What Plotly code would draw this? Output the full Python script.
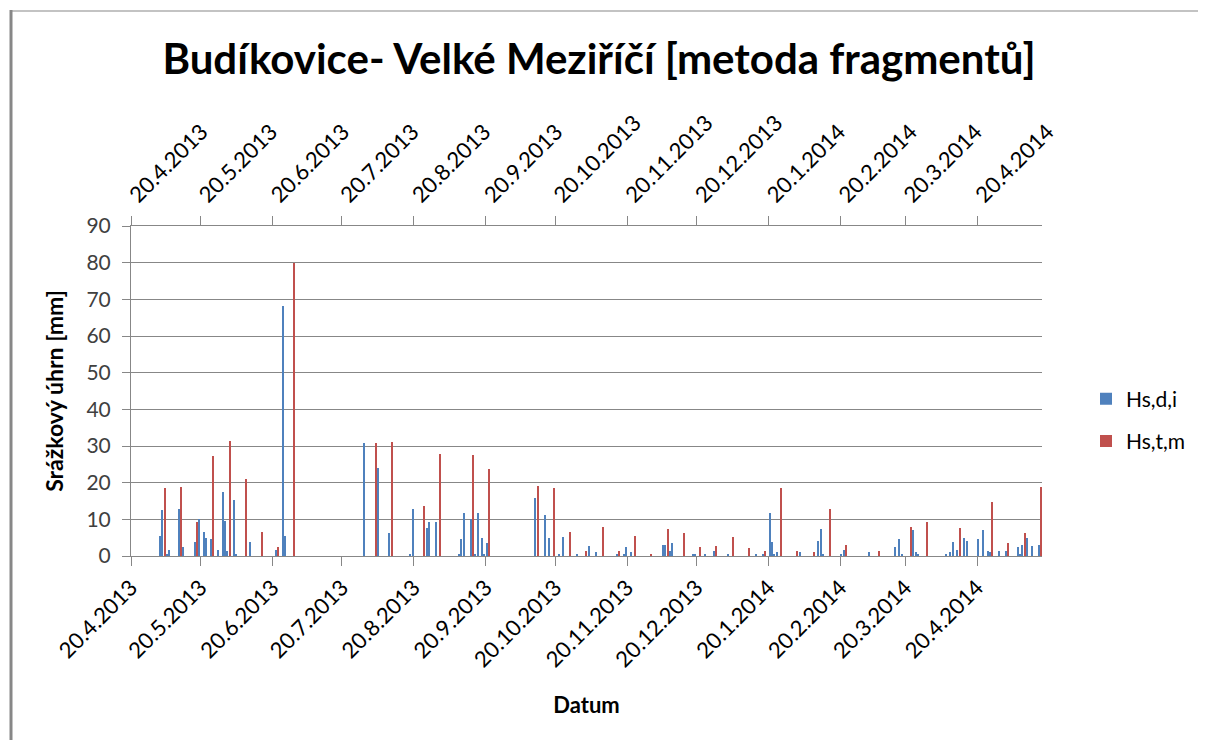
import plotly.graph_objects as go

# Hs,d,i  (daily precipitation)
blue_dates = [
    "2013-05-02", "2013-05-03", "2013-05-05", "2013-05-06", "2013-05-10", "2013-05-12",
    "2013-05-17", "2013-05-19", "2013-05-21", "2013-05-22", "2013-05-24", "2013-05-27",
    "2013-05-29", "2013-05-30", "2013-05-31", "2013-06-03", "2013-06-04", "2013-06-10",
    "2013-06-21", "2013-06-24", "2013-06-25", "2013-07-29", "2013-08-04", "2013-08-09",
    "2013-08-18", "2013-08-19", "2013-08-25", "2013-08-26", "2013-08-29", "2013-09-08",
    "2013-09-09", "2013-09-10", "2013-09-13", "2013-09-15", "2013-09-16", "2013-09-18",
    "2013-09-19", "2013-09-20", "2013-10-11", "2013-10-15", "2013-10-17", "2013-10-21",
    "2013-10-23", "2013-10-29", "2013-11-03", "2013-11-06", "2013-11-15", "2013-11-18",
    "2013-11-19", "2013-11-21", "2013-12-05", "2013-12-06", "2013-12-08", "2013-12-09",
    "2013-12-18", "2013-12-19", "2013-12-23", "2013-12-27", "2014-01-02", "2014-01-14",
    "2014-01-17", "2014-01-20", "2014-01-21", "2014-01-22", "2014-01-23", "2014-02-02",
    "2014-02-10", "2014-02-11", "2014-02-12", "2014-02-20", "2014-02-21", "2014-03-04",
    "2014-03-15", "2014-03-17", "2014-03-18", "2014-03-23", "2014-03-24", "2014-03-25",
    "2014-04-06", "2014-04-08", "2014-04-09", "2014-04-11", "2014-04-14", "2014-04-15",
    "2014-04-20", "2014-04-22", "2014-04-24", "2014-04-25", "2014-04-29", "2014-05-02",
    "2014-05-07", "2014-05-08", "2014-05-09", "2014-05-11", "2014-05-13", "2014-05-16",
]
blue_values = [
    5.5, 12.5, 0.5, 1.6, 12.8, 2.5,
    3.8, 10.1, 6.5, 4.9, 4.6, 1.6,
    17.5, 9.6, 1.4, 15.3, 0.4, 3.8,
    1.6, 68.2, 5.5, 30.8, 24.0, 6.3,
    0.5, 12.8, 7.6, 9.4, 9.4, 0.3,
    4.6, 11.7, 10.1, 0.5, 11.7, 4.9,
    0.5, 3.5, 15.8, 11.2, 4.9, 0.3,
    5.2, 0.5, 2.7, 1.1, 0.5, 0.3,
    2.5, 1.1, 3.0, 3.0, 1.4, 3.5,
    0.5, 0.3, 0.5, 1.4, 0.3, 0.3,
    0.3, 11.7, 3.8, 0.3, 1.1, 1.1,
    4.1, 7.4, 0.5, 0.5, 1.6, 1.1,
    2.5, 4.6, 0.3, 7.1, 1.1, 0.5,
    0.3, 1.1, 3.8, 1.6, 4.9, 4.1,
    4.6, 7.1, 1.4, 1.1, 1.4, 1.4,
    2.5, 0.3, 3.0, 4.9, 2.7, 3.0,
]

# Hs,t,m  (weekly values)
red_dates = [
    "2013-05-04", "2013-05-11", "2013-05-18", "2013-05-25", "2013-06-01", "2013-06-08",
    "2013-06-15", "2013-06-22", "2013-06-29", "2013-08-03", "2013-08-10", "2013-08-24",
    "2013-08-31", "2013-09-14", "2013-09-21", "2013-10-12", "2013-10-19", "2013-10-26",
    "2013-11-02", "2013-11-09", "2013-11-16", "2013-11-23", "2013-11-30", "2013-12-07",
    "2013-12-14", "2013-12-21", "2013-12-28", "2014-01-04", "2014-01-11", "2014-01-18",
    "2014-01-25", "2014-02-01", "2014-02-08", "2014-02-15", "2014-02-22", "2014-03-08",
    "2014-03-22", "2014-03-29", "2014-04-12", "2014-04-26", "2014-05-03", "2014-05-10",
    "2014-05-17",
]
red_values = [
    18.5, 18.8, 9.4, 27.3, 31.4, 21.0,
    6.5, 2.5, 79.8, 30.8, 31.1, 13.6,
    27.8, 27.5, 23.7, 19.1, 18.5, 6.5,
    1.4, 7.9, 1.4, 5.5, 0.3, 7.4,
    6.3, 2.5, 2.7, 5.2, 2.2, 1.4,
    18.5, 1.4, 1.1, 12.8, 3.0, 1.4,
    7.9, 9.4, 7.6, 14.7, 3.5, 6.3,
    18.8,
]

tick_dates = [
    "2013-04-20", "2013-05-20", "2013-06-20", "2013-07-20", "2013-08-20", "2013-09-20",
    "2013-10-20", "2013-11-20", "2013-12-20", "2014-01-20", "2014-02-20", "2014-03-20",
    "2014-04-20",
]
tick_labels = [
    "20.4.2013", "20.5.2013", "20.6.2013", "20.7.2013", "20.8.2013", "20.9.2013",
    "20.10.2013", "20.11.2013", "20.12.2013", "20.1.2014", "20.2.2014", "20.3.2014",
    "20.4.2014",
]
x_range = ["2013-04-20", "2014-05-18"]
y_ticks = [0, 10, 20, 30, 40, 50, 60, 70, 80, 90]

FONT = "Lato"
GRAY = "#878787"
DAY_MS = 86400000

fig = go.Figure()
fig.add_trace(go.Bar(
    x=blue_dates, y=blue_values, name="Hs,d,i",
    marker=dict(color="#4F81BD", line=dict(width=0)),
    xperiod=DAY_MS, xperiodalignment="middle", width=0.45 * DAY_MS,
    xaxis="x", yaxis="y", legendgroup="a",
))
fig.add_trace(go.Bar(
    x=red_dates, y=red_values, name="Hs,t,m",
    marker=dict(color="#C0504D", line=dict(width=0)),
    xperiod=DAY_MS, xperiodalignment="middle", width=0.45 * DAY_MS,
    xaxis="x2", yaxis="y", legendgroup="b",
))

# page has an 8px body margin: figure is drawn 8px right/down of the page origin
OFF = 8
W, H = 1206 - OFF, 740 - OFF
PL, PR, PT, PB = 131, 1042, 226, 556  # plot area in page pixels
L, T = PL - OFF, PT - OFF
R, B = W - (PR - OFF), H - (PB - OFF)

def px_x(p):
    return (p - PL) / (PR - PL)

def px_y(p):
    return (PB - p) / (PB - PT)

axis_common = dict(
    type="date", tickvals=tick_dates, ticktext=tick_labels, tickangle=-45,
    ticks="outside", ticklen=9, tickcolor=GRAY, tickwidth=1,
    showline=True, linecolor=GRAY, linewidth=1, showgrid=False, zeroline=False,
    tickfont=dict(family=FONT, size=22, color="#000000"),
)

fig.update_layout(
    width=W, height=H,
    margin=dict(l=L, r=R, t=T, b=B),
    paper_bgcolor="white", plot_bgcolor="white",
    barmode="overlay", bargap=0,
    font=dict(family=FONT, color="#000000"),
    title=dict(
        text="<b>Budíkovice- Velké Meziříčí [metoda fragmentů]</b>",
        font=dict(family=FONT, size=42, color="#000000"),
        x=(599 - OFF) / W, xref="container", xanchor="center",
        y=1 - (59 - OFF) / H, yref="container", yanchor="middle",
    ),
    xaxis=dict(
        **axis_common, range=x_range,
        title=dict(text="<b>Datum</b>", font=dict(family=FONT, size=22), standoff=26),
    ),
    xaxis2=dict(**axis_common, overlaying="x", side="top", matches="x", anchor="y"),
    yaxis=dict(
        range=[0, 90], tickvals=y_ticks, ticks="outside", ticklen=8, tickcolor=GRAY,
        showline=True, linecolor=GRAY, linewidth=1,
        showgrid=True, gridcolor=GRAY, gridwidth=1, zeroline=False,
        tickfont=dict(family=FONT, size=21, color="#404040"),
        ticklabelstandoff=7,
        title=dict(text="<b>Srážkový úhrn [mm]</b>", font=dict(family=FONT, size=23), standoff=16),
    ),
    legend=dict(
        x=px_x(1086), xanchor="left", y=px_y(420), yanchor="middle",
        font=dict(family=FONT, size=21, color="#000000"),
        tracegroupgap=12, traceorder="grouped", bgcolor="rgba(0,0,0,0)",
    ),
    showlegend=True,
    shapes=[
        dict(type="line", xref="paper", yref="paper",
             x0=px_x(11), x1=px_x(1215), y0=px_y(11), y1=px_y(11),
             line=dict(color=GRAY, width=1)),
        dict(type="line", xref="paper", yref="paper",
             x0=px_x(11), x1=px_x(11), y0=px_y(10), y1=px_y(745),
             line=dict(color=GRAY, width=3)),
    ],
)

fig.write_html("out.html")
